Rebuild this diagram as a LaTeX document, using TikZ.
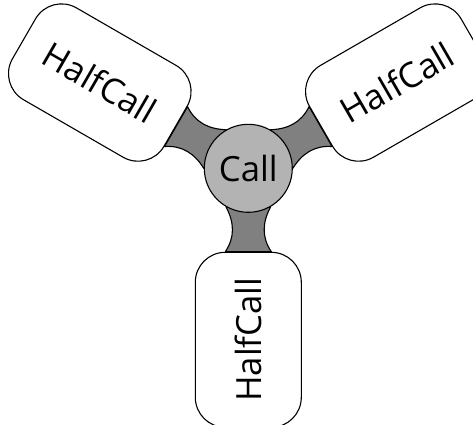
\documentclass[tikz,border=0pt]{standalone}
\usepackage{fontspec}
\newfontfamily\diagfont{Open Sans}
\usetikzlibrary{calc,backgrounds}
\definecolor{callgray}{HTML}{B3B3B3}
\definecolor{neckgray}{HTML}{808080}
\tikzset{
  halfbox/.style={draw=black, fill=white, line width=1.1pt, rounded corners=30pt,
    minimum width=175pt, minimum height=106pt, inner sep=0pt,
    font=\diagfont\fontsize{34.7}{40}\selectfont},
  callnode/.style={circle, draw=black, fill=callgray, line width=1.1pt,
    minimum size=88pt, inner sep=0pt, font=\diagfont\fontsize{34.7}{40}\selectfont},
  neck/.style={draw=black, fill=neckgray, line width=1.1pt, line join=round}
}
\begin{document}
\begin{tikzpicture}[x=1pt,y=1pt]
\useasboundingbox (-248.3,-255.7) rectangle (224.7,168.3);
\clip (-248.3,-255.7) rectangle (224.7,168.3);
\node[callnode] (c) at (0,0) {Call};
\node[halfbox, rotate=-30] (h1) at (150:171.5) {HalfCall};
\node[halfbox, rotate=30] (h2) at (30:171.5) {HalfCall};
\node[halfbox, rotate=90] (h3) at (270:171.5) {HalfCall};
\begin{scope}[on background layer]
  \path[neck] (c.120) to[out=178, in=296] ($(h1.east)!0.43!(h1.north east)$)
    -- ($(h1.east)!0.43!(h1.south east)$) to[out=4, in=122] (c.180) -- cycle;
  \path[neck] (c.0) to[out=58, in=176] ($(h2.west)!0.43!(h2.south west)$)
    -- ($(h2.west)!0.43!(h2.north west)$) to[out=244, in=2] (c.60) -- cycle;
  \path[neck] (c.240) to[out=298, in=56] ($(h3.east)!0.43!(h3.north east)$)
    -- ($(h3.east)!0.43!(h3.south east)$) to[out=124, in=242] (c.300) -- cycle;
\end{scope}
\end{tikzpicture}
\end{document}
